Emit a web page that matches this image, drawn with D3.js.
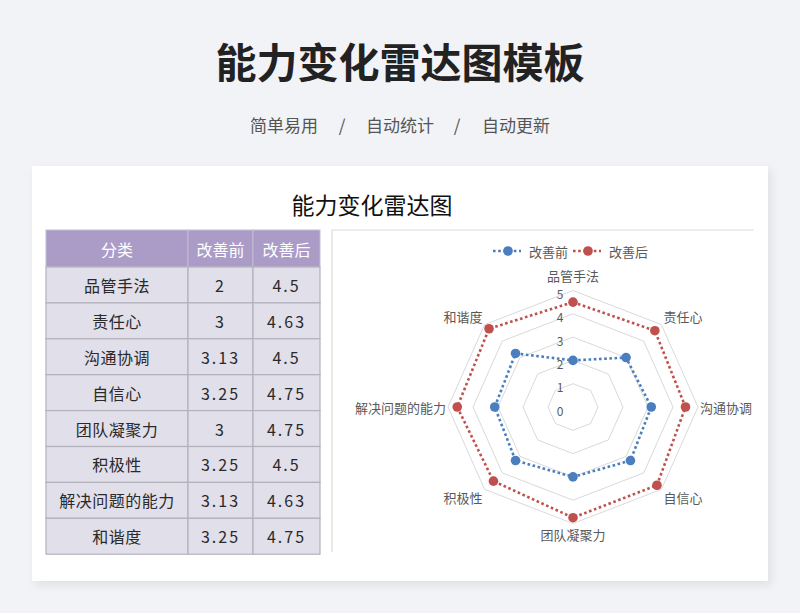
<!DOCTYPE html>
<html>
<head>
<meta charset="utf-8">
<script src="https://cdn.jsdelivr.net/npm/d3@7"></script>
<style>
  html, body { margin: 0; padding: 0; background: #f2f3f6; }
  svg { display: block; font-family: "Noto Sans CJK SC", "Noto Sans", sans-serif; }
</style>
</head>
<body>
<svg id="page" width="800" height="613"></svg>
<script>
// data
const categories = ["品管手法", "责任心", "沟通协调", "自信心", "团队凝聚力", "积极性", "解决问题的能力", "和谐度"];
const before = [2, 3, 3.13, 3.25, 3, 3.25, 3.13, 3.25];
const after = [4.5, 4.63, 4.5, 4.75, 4.75, 4.5, 4.63, 4.75];
const seriesNames = ["改善前", "改善后"];
const seriesColors = ["#4a7ebf", "#c0504d"];
const headers = ["分类", "改善前", "改善后"];
const radialTicks = [0, 1, 2, 3, 4, 5];
const subtitles = ["简单易用", "/", "自动统计", "/", "自动更新"];

const svg = d3.select("#page");

// shadow for the card
const defs = svg.append("defs");
const f = defs.append("filter").attr("id", "shadow")
    .attr("x", "-5%").attr("y", "-5%").attr("width", "112%").attr("height", "115%");
f.append("feDropShadow").attr("dx", 3).attr("dy", 4).attr("stdDeviation", 4)
    .attr("flood-color", "#000").attr("flood-opacity", 0.08);

// page title
svg.append("text")
    .attr("x", 400).attr("y", 60)
    .attr("text-anchor", "middle").attr("dominant-baseline", "central")
    .attr("font-size", 41).attr("font-weight", 700).attr("fill", "#222")
    .text("能力变化雷达图模板");

const subX = [284, 342, 400, 457, 516];
svg.selectAll("text.sub")
    .data(subtitles)
    .join("text")
    .attr("class", "sub")
    .attr("x", (d, i) => subX[i]).attr("y", 124)
    .attr("text-anchor", "middle").attr("dominant-baseline", "central")
    .attr("font-size", 17).attr("fill", "#555")
    .text(d => d);

// card
svg.append("rect")
    .attr("x", 32).attr("y", 166).attr("width", 736).attr("height", 415)
    .attr("fill", "#fff").attr("filter", "url(#shadow)");

svg.append("text")
    .attr("x", 372).attr("y", 204)
    .attr("text-anchor", "middle").attr("dominant-baseline", "central")
    .attr("font-size", 23).attr("fill", "#111")
    .text("能力变化雷达图");

// table
const colX = [46, 188, 253, 320];
const headTop = 230, headH = 37, rowH = 35.9;
const table = svg.append("g");

table.selectAll("rect.head")
    .data(headers)
    .join("rect")
    .attr("class", "head")
    .attr("x", (d, i) => colX[i]).attr("y", headTop)
    .attr("width", (d, i) => colX[i + 1] - colX[i]).attr("height", headH)
    .attr("fill", "#aa9cc7").attr("stroke", "#c4bcd6").attr("stroke-width", 1);

table.selectAll("text.head")
    .data(headers)
    .join("text")
    .attr("class", "head")
    .attr("x", (d, i) => (colX[i] + colX[i + 1]) / 2).attr("y", headTop + headH / 2)
    .attr("text-anchor", "middle").attr("dominant-baseline", "central")
    .attr("font-size", 16).attr("fill", "#fff")
    .text(d => d);

const rows = categories.map((c, i) => [c, before[i], after[i]]);
const rowG = table.selectAll("g.row")
    .data(rows)
    .join("g")
    .attr("class", "row")
    .attr("transform", (d, i) => `translate(0,${headTop + headH + i * rowH})`);

rowG.selectAll("rect")
    .data(d => d)
    .join("rect")
    .attr("x", (d, i) => colX[i]).attr("y", 0)
    .attr("width", (d, i) => colX[i + 1] - colX[i]).attr("height", rowH)
    .attr("fill", "#e1dfea").attr("stroke", "#b3b1bb").attr("stroke-width", 1.2);

rowG.selectAll("text")
    .data(d => d)
    .join("text")
    .attr("x", (d, i) => (colX[i] + colX[i + 1]) / 2).attr("y", rowH / 2)
    .attr("text-anchor", "middle").attr("dominant-baseline", "central")
    .attr("font-size", 16).attr("fill", "#2a2a2a")
    .attr("letter-spacing", (d, i) => i === 0 ? 0.5 : 2)
    .text(d => d);

// chart area frame
svg.append("path")
    .attr("d", "M332,552V230H754")
    .attr("fill", "none").attr("stroke", "#dcdcdc").attr("stroke-width", 1.2);

// radar
const cx = 573, cy = 407;
const rx = d3.scaleLinear().domain([0, 5]).range([0, 125]);
const ry = d3.scaleLinear().domain([0, 5]).range([0, 116.5]);
const angle = d3.scalePoint().domain(d3.range(categories.length)).range([0, 2 * Math.PI * (categories.length - 1) / categories.length]);

const pt = (v, i) => [cx + rx(v) * Math.sin(angle(i)), cy - ry(v) * Math.cos(angle(i))];
const radar = svg.append("g");

// grid rings
radar.selectAll("path.ring")
    .data(radialTicks.filter(d => d > 0))
    .join("path")
    .attr("class", "ring")
    .attr("d", v => d3.line()(categories.map((c, i) => pt(v, i))) + "Z")
    .attr("fill", "none").attr("stroke", "#d9d9d9").attr("stroke-width", 1);

// radial tick labels
radar.selectAll("text.tick")
    .data(radialTicks)
    .join("text")
    .attr("class", "tick")
    .attr("x", cx - 13).attr("y", v => cy - ry(v) + 3)
    .attr("text-anchor", "middle").attr("dominant-baseline", "central")
    .attr("font-size", 12).attr("fill", "#595959")
    .text(d => d);

// category labels
radar.selectAll("text.cat")
    .data(categories)
    .join("text")
    .attr("class", "cat")
    .attr("x", (d, i) => {
        const s = Math.sin(angle(i));
        return pt(5, i)[0] + (Math.abs(s) < 0.1 ? 0 : 2 * Math.sign(s));
    })
    .attr("y", (d, i) => pt(5, i)[1] - 11 * Math.cos(angle(i)) - (i === 0 ? 4.5 : 0))
    .attr("text-anchor", (d, i) => {
        const s = Math.sin(angle(i));
        return Math.abs(s) < 0.1 ? "middle" : (s > 0 ? "start" : "end");
    })
    .attr("dominant-baseline", "central")
    .attr("font-size", 13).attr("fill", "#595959")
    .text(d => d);

// series
const series = [before, after];
const sg = radar.selectAll("g.series")
    .data(series)
    .join("g")
    .attr("class", "series");

sg.append("path")
    .attr("d", vals => d3.line()(vals.map((v, i) => pt(v, i))) + "Z")
    .attr("fill", "none")
    .attr("stroke", (d, k) => seriesColors[k])
    .attr("stroke-width", 2.6)
    .attr("stroke-dasharray", "2.6,2.6");

sg.selectAll("circle")
    .data(vals => vals)
    .join("circle")
    .attr("cx", (v, i) => pt(v, i)[0]).attr("cy", (v, i) => pt(v, i)[1])
    .attr("r", 4.8)
    .attr("fill", function () { return seriesColors[series.indexOf(d3.select(this.parentNode).datum())]; });

// legend
const legX = [493, 573];
const leg = svg.selectAll("g.legend")
    .data(seriesNames)
    .join("g")
    .attr("class", "legend")
    .attr("transform", (d, i) => `translate(${legX[i]},251)`);

leg.append("line")
    .attr("x1", 0).attr("x2", 28).attr("y1", 0).attr("y2", 0)
    .attr("stroke", (d, i) => seriesColors[i])
    .attr("stroke-width", 2.6).attr("stroke-dasharray", "2.6,2.6");
leg.append("circle")
    .attr("cx", 15).attr("cy", 0).attr("r", 4.8)
    .attr("fill", (d, i) => seriesColors[i]);
leg.append("text")
    .attr("x", 36).attr("y", 0)
    .attr("dominant-baseline", "central")
    .attr("font-size", 13).attr("fill", "#595959")
    .text(d => d);
</script>
</body>
</html>
